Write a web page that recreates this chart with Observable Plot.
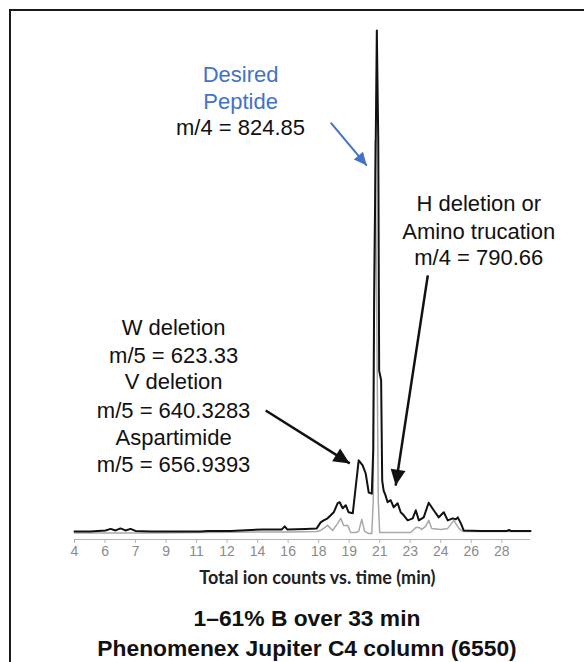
<!DOCTYPE html>
<html><head><meta charset="utf-8">
<script src="https://cdn.jsdelivr.net/npm/d3@7"></script>
<script src="https://cdn.jsdelivr.net/npm/@observablehq/plot@0.6"></script>
<style>
body{margin:0;background:#fff;width:584px;height:662px;overflow:hidden;position:relative;font-family:"Liberation Sans",Arial,sans-serif}
#frame{position:absolute;left:9px;top:9px;width:620px;height:700px;border-left:2px solid #1a1a1a;border-top:2px solid #1a1a1a;box-sizing:border-box}
#chart{position:absolute;left:0;top:0}
#caption{position:absolute;left:0;top:604px;width:584px;padding-left:30px;box-sizing:border-box;text-align:center;font-weight:bold;font-size:22.8px;line-height:29.5px;color:#111}
</style></head><body>
<div id="frame"></div>
<div id="chart"></div>
<div id="caption"><div>1–61% B over 33 min</div><div>Phenomenex Jupiter C4 column (6550)</div></div>
<script>
// Total ion count trace (black): time (min) and relative intensity
const ticTime = [4.00,4.89,5.73,6.01,6.29,6.56,6.84,7.12,7.40,8.24,11.02,11.41,12.70,14.48,15.37,15.55,15.71,15.85,16.88,17.49,17.71,17.88,18.10,18.44,18.66,18.77,18.94,19.11,19.27,19.50,19.66,19.83,20.05,20.22,20.39,20.56,20.64,20.69,20.78,20.84,20.92,20.97,21.08,21.14,21.22,21.33,21.44,21.61,21.78,22.00,22.17,22.34,22.56,22.84,23.01,23.18,23.45,23.73,24.01,24.29,24.57,24.79,25.07,25.24,25.35,25.52,25.68,26.63,28.10,28.20,28.30,29.40];
const ticLevel = [0.6,0.6,0.8,1.1,0.8,1.2,0.8,1.1,0.7,0.6,0.6,0.7,0.7,1.0,1.0,1.0,1.6,1.0,1.1,1.2,2.4,2.8,3.2,4.4,6.2,6.4,5.2,5.8,4.4,4.2,9.3,14.7,13.7,12.1,8.3,8.1,16.7,46.4,78.2,100,78.2,32.5,30.6,10.7,8.7,7.7,6.4,6.8,5.4,6.2,4.4,3.8,2.8,3.2,4.8,2.8,3.4,6.3,4.8,3.4,4.4,2.8,3.2,3.0,3.4,2.2,0.8,0.7,0.7,0.9,0.7,0.7];
// Second trace (gray)
const grayTime = [4.00,8.24,11.41,14.48,16.04,17.49,17.71,17.88,18.10,18.38,18.66,18.83,18.99,19.22,19.38,19.66,19.83,20.00,20.16,20.39,20.56,20.64,20.69,20.75,20.83,20.92,21.00,22.73,23.01,23.18,23.34,23.56,23.73,23.90,24.40,24.79,25.13,25.41,25.63,29.40];
const grayLevel = [0.3,0.3,0.4,0.5,0.5,0.6,0.8,1.2,1.8,0.8,2.2,3.2,1.8,1.8,0.4,0.4,0.6,3.0,0.6,0.2,0.2,6.7,46.4,78.2,46.4,6.7,0.4,0.4,1.4,1.4,1.0,1.6,2.8,1.2,1.0,1.2,2.8,1.2,0.6,0.6];
// x axis ticks and their printed labels
const tickValues = [4,5.7,7.4,9.1,10.8,12.5,14.2,15.9,17.6,19.3,21.0,22.7,24.4,26.1,27.8];
const tickLabels = ["4","6","7","9","11","12","14","16","18","19","21","23","24","26","28"];
const axisTitle = "Total ion counts vs. time (min)";
// annotations
const annoText = ["Desired","Peptide","m/4 = 824.85","W deletion","m/5 = 623.33","V deletion","m/5 = 640.3283","Aspartimide","m/5 = 656.9393","H deletion or","Amino trucation","m/4 = 790.66"];
const annoTime = [13.25,13.25,13.25,9.52,9.52,9.52,9.52,9.52,9.52,26.52,26.52,26.52];
const annoLevel = [91.1,85.9,80.6,40.9,35.5,30.2,24.6,19.2,13.7,65.5,60.1,54.8];
const annoColor = ["#4472c4","#4472c4","#111","#111","#111","#111","#111","#111","#111","#111","#111","#111"];
// arrows: from (t1,v1) to (t2,v2)
const arrowT1 = [18.27,14.65,23.68];
const arrowV1 = [81.7,24.6,51.4];
const arrowT2 = [20.28,19.33,21.89];
const arrowV2 = [73.2,14.1,9.7];
const arrowColor = ["#4472c4","#111","#111"];

const BLUE = "#4472c4";
const tic = ticTime.map((t,i)=>({t, v: ticLevel[i]}));
const gray = grayTime.map((t,i)=>({t, v: grayLevel[i]}));
const ticks = tickValues.map((t,i)=>({t, s: tickLabels[i]}));
const annos = annoText.map((s,i)=>({s, t: annoTime[i], v: annoLevel[i], c: annoColor[i]}));
const arrows = arrowT1.map((t,i)=>({t1:t, v1:arrowV1[i], t2:arrowT2[i], v2:arrowV2[i], c:arrowColor[i]}));

const svg = Plot.plot({
  width: 584, height: 600,
  marginLeft: 74, marginRight: 54, marginTop: 30, marginBottom: 61,
  style: {background: "transparent", fontFamily: "'Liberation Sans', Arial, sans-serif"},
  x: {domain: [4, 29.4]},
  y: {domain: [-1, 100], axis: null},
  marks: [
    Plot.ruleY([-1], {stroke: "#b4b4b4", strokeWidth: 1.2}),
    Plot.axisX(tickValues, {tickFormat: () => "", tickSize: 4, stroke: "#b4b4b4", label: null}),
    Plot.text(ticks, {x: "t", text: "s", frameAnchor: "bottom", dy: 16, fontSize: 14, fill: "#8a8a8a"}),
    Plot.text([axisTitle], {x: 17.53, frameAnchor: "bottom", dy: 44, fontSize: 18, fontWeight: "bold", fill: "#222", fontFamily: "Lato, sans-serif"}),
    Plot.line(gray, {x: "t", y: "v", stroke: "#a8a8a8", strokeWidth: 1.5}),
    Plot.line(tic, {x: "t", y: "v", stroke: "#111", strokeWidth: 2}),
    Plot.link(arrows.filter(d => d.c === BLUE), {x1: "t1", y1: "v1", x2: "t2", y2: "v2", stroke: BLUE, strokeWidth: 2, markerEnd: "arrow"}),
    Plot.link(arrows.filter(d => d.c !== BLUE), {x1: "t1", y1: "v1", x2: "t2", y2: "v2", stroke: "#111", strokeWidth: 2.5, markerEnd: "arrow"}),
    Plot.text(annos.filter(d => d.c === BLUE), {x: "t", y: "v", text: "s", fill: BLUE, fontSize: 22}),
    Plot.text(annos.filter(d => d.c !== BLUE), {x: "t", y: "v", text: "s", fill: "#111", fontSize: 22})
  ]
});
// filled triangular arrowheads
svg.querySelectorAll("marker").forEach(m => {
  const c = m.getAttribute("stroke");
  const isBlue = (c || "").toLowerCase() === BLUE;
  const L = isBlue ? 13 : 16, W = isBlue ? 6 : 7.5;
  m.setAttribute("markerUnits", "userSpaceOnUse");
  m.setAttribute("viewBox", `${-L-1} ${-W-1} ${L+2} ${2*W+2}`);
  m.setAttribute("markerWidth", L+2);
  m.setAttribute("markerHeight", 2*W+2);
  m.setAttribute("refX", 0);
  m.setAttribute("refY", 0);
  m.setAttribute("fill", c);
  m.setAttribute("stroke", "none");
  const p = m.querySelector("path");
  if (p) p.setAttribute("d", `M${-L},${-W}L0,0L${-L},${W}Z`);
});
document.getElementById("chart").appendChild(svg);
</script>
</body></html>
